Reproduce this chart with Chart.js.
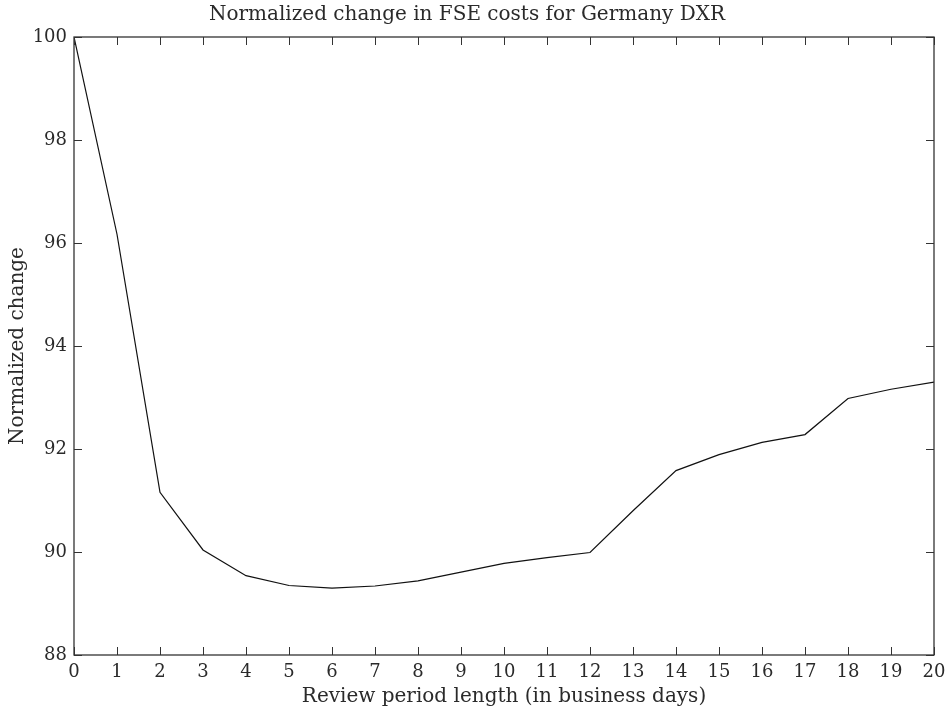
<!DOCTYPE html>
<html>
<head>
<meta charset="utf-8">
<script src="https://cdn.jsdelivr.net/npm/chart.js@4/dist/chart.umd.min.js"></script>
<style>
  html, body { margin: 0; padding: 0; background: #fff; }
  #wrap { width: 949px; height: 718px; }
</style>
</head>
<body>
<div id="wrap"><canvas id="fseChart"></canvas></div>
<script>
// review period length (business days) and normalized FSE cost change
const reviewDays = [0, 1, 2, 3, 4, 5, 6, 7, 8, 9, 10, 11, 12, 13, 14, 15, 16, 17, 18, 19, 20];
const normalizedChange = [100, 96.17, 91.16, 90.04, 89.54, 89.35, 89.30, 89.34, 89.44, 89.61, 89.78, 89.89, 89.99,
  90.80, 91.58, 91.89, 92.13, 92.28, 92.98, 93.16, 93.30];
const yTicks = [88, 90, 92, 94, 96, 98, 100];

const serif = 'DejaVu Serif, Liberation Serif, serif';
const ink = '#2a2a2a';

// MATLAB-style box with inward ticks on all four sides
const boxTicks = {
  id: 'boxTicks',
  afterDatasetsDraw(chart) {
    const { ctx, chartArea: a, scales } = chart;
    const len = 8;
    ctx.save();
    ctx.strokeStyle = '#333';
    ctx.lineWidth = 1;
    ctx.beginPath();
    scales.x.ticks.forEach(t => {
      const px = Math.round(scales.x.getPixelForValue(t.value)) + 0.5;
      ctx.moveTo(px, a.bottom); ctx.lineTo(px, a.bottom - len);
      ctx.moveTo(px, a.top); ctx.lineTo(px, a.top + len);
    });
    scales.y.ticks.forEach(t => {
      const py = Math.round(scales.y.getPixelForValue(t.value)) + 0.5;
      ctx.moveTo(a.left, py); ctx.lineTo(a.left + len, py);
      ctx.moveTo(a.right, py); ctx.lineTo(a.right - len, py);
    });
    ctx.stroke();
    ctx.lineWidth = 1.3;
    ctx.strokeRect(a.left, a.top, a.right - a.left, a.bottom - a.top);
    ctx.restore();
  }
};

new Chart(document.getElementById('fseChart'), {
  type: 'line',
  data: {
    labels: reviewDays,
    datasets: [{
      data: reviewDays.map((d, i) => ({ x: d, y: normalizedChange[i] })),
      borderColor: '#111',
      borderWidth: 1.2,
      pointRadius: 0,
      tension: 0,
      fill: false
    }]
  },
  options: {
    responsive: true,
    maintainAspectRatio: false,
    animation: false,
    layout: { padding: { top: 0, right: 15, bottom: 0, left: 0 } },
    plugins: {
      legend: { display: false },
      tooltip: { enabled: false },
      title: {
        display: true,
        text: 'Normalized change in FSE costs for Germany DXR',
        color: ink,
        font: { family: serif, size: 20, weight: 'normal' },
        padding: { top: 3, bottom: 10 }
      }
    },
    scales: {
      x: {
        type: 'linear',
        min: 0,
        max: 20,
        grid: { display: false, drawTicks: false },
        border: { display: false },
        ticks: {
          stepSize: 1,
          padding: 7,
          color: ink,
          font: { family: serif, size: 18 }
        },
        title: {
          display: true,
          text: 'Review period length (in business days)',
          color: ink,
          font: { family: serif, size: 20 },
          padding: { top: 0, bottom: 9 }
        },
        afterFit: s => {
          s.height = 63;
          s.paddingLeft = 0;
          s.paddingRight = 0;
        }
      },
      y: {
        min: 88,
        max: 100,
        afterBuildTicks: s => { s.ticks = yTicks.map(v => ({ value: v })); },
        grid: { display: false, drawTicks: false },
        border: { display: false },
        ticks: {
          padding: 7,
          color: ink,
          font: { family: serif, size: 18 }
        },
        title: {
          display: true,
          text: 'Normalized change',
          color: ink,
          font: { family: serif, size: 20 },
          padding: { top: 6, bottom: 0 }
        },
        afterFit: s => { s.width = 74; }
      }
    }
  },
  plugins: [boxTicks]
});
</script>
</body>
</html>
